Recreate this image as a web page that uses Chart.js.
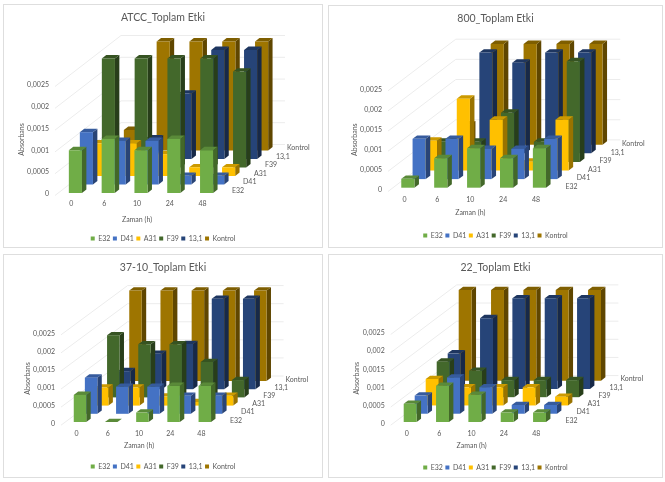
<!DOCTYPE html>
<html>
<head>
<meta charset="utf-8">
<title>Toplam Etki</title>
<script src="https://cdn.jsdelivr.net/npm/chart.js@4"></script>
<style>
  html, body { margin: 0; padding: 0; background: #fff; }
  canvas { position: absolute; outline: 1px solid #dedede; outline-offset: -1px; }
</style>
</head>
<body>
<canvas id="c1"></canvas>
<canvas id="c2"></canvas>
<canvas id="c3"></canvas>
<canvas id="c4"></canvas>
<script>
// Data
const categories = ['0', '6', '10', '24', '48'];
const seriesNames = ['E32', 'D41', 'A31', 'F39', '13,1', 'Kontrol'];
const yTicks = [0, 0.0005, 0.001, 0.0015, 0.002, 0.0025];
const tickLabels = ['0', '0,0005', '0,001', '0,0015', '0,002', '0,0025'];

// one row per series, same order as seriesNames
const atccValues = [
    [0.00098, 0.00124, 0.00098, 0.00124, 0.00098],
    [0.0012, 0.001, 0.001, 0.0002, 0.0002],
    [0.00075, 0.00075, 0.0005, 0.0002, 0.0002],
    [0.0025, 0.0025, 0.0025, 0.0025, 0.0022],
    [0.0002, 0.00047, 0.0015, 0.0025, 0.0025],
    [0.00047, 0.0025, 0.0025, 0.0025, 0.0025]
];
const values800 = [
    [0.00022, 0.00073, 0.00098, 0.00073, 0.00098],
    [0.001, 0.001, 0.00075, 0.00075, 0.001],
    [0.00074, 0.00178, 0.00126, 0.00022, 0.00126],
    [0.0005, 0.0005, 0.00122, 0.0005, 0.0025],
    [0.0003, 0.0025, 0.00225, 0.0025, 0.0025],
    [0.0005, 0.0025, 0.0025, 0.0025, 0.0025]
];
const values3710 = [
    [0.00075, 0, 0.00026, 0.001, 0.001],
    [0.001, 0.00075, 0.00075, 0.0005, 0.0005],
    [0.0005, 0.0005, 0.00025, 0.0001, 0.00027],
    [0.00172, 0.00147, 0.00147, 0.00098, 0.00048],
    [0.0005, 0.00098, 0.00125, 0.0025, 0.0025],
    [0.0025, 0.0025, 0.0025, 0.0025, 0.0025]
];
const values22 = [
    [0.0005, 0.001, 0.00075, 0.00026, 0.00026],
    [0.0005, 0.001, 0.00073, 0.00024, 0.00024],
    [0.00073, 0.0005, 0.0005, 0.0005, 0.00024],
    [0.00098, 0.00073, 0.00047, 0.00047, 0.00047],
    [0.00098, 0.00195, 0.0025, 0.0025, 0.0025],
    [0.0025, 0.0025, 0.0025, 0.0025, 0.0025]
];

// Colours of the faces
const frontColors = ['#70AD47', '#4472C4', '#FFC000', '#43682B', '#264478', '#9E7500'];
const sideColors = ['#436829', '#294476', '#997300', '#283E1A', '#172948', '#5F4600'];
const topColors = ['#5A8A39', '#365B9D', '#CC9A00', '#365322', '#1E3660', '#7E5E00'];
const textColor = '#595959';
const gridColor = '#ececec';
const fontName = 'Lato, "Open Sans", sans-serif';
const labelSize = 7;

// Bars have 40% of the depth slot, like the Excel chart
const barDepth = 0.4;

// Position of each chart, x0/x1 is the front plane, y0/y1 the labels of 0 and 0,0025
const panels = [
    { id: 'c1', title: 'ATCC_Toplam Etki', values: atccValues, left: 3, top: 4, w: 320, h: 244, legendPad: -4, zamanGap: 26,
      x0: 55, x1: 219, y0: 194, y1: 85, dx: 11, dy: 8.5, barX: 4, barY: 1 },
    { id: 'c2', title: '800_Toplam Etki', values: values800, left: 328, top: 5, w: 335, h: 243, legendPad: -1, zamanGap: 23,
      x0: 388, x1: 552.5, y0: 190, y1: 89.3, dx: 11.3, dy: 8.6, barX: 3.4, barY: 2.3 },
    { id: 'c3', title: '37-10_Toplam Etki', values: values3710, left: 3, top: 254, w: 320, h: 224, legendPad: -2, zamanGap: 22,
      x0: 61, x1: 217, y0: 423.7, y1: 333.3, dx: 11.1, dy: 8.2, barX: 3.4, barY: 1.7 },
    { id: 'c4', title: '22_Toplam Etki', values: values22, left: 328, top: 254, w: 335, h: 224, legendPad: -3, zamanGap: 22,
      x0: 390.7, x1: 552.4, y0: 423.7, y1: 333, dx: 11, dy: 8.27, barX: 3.3, barY: 1.7 }
];

function face(ctx, color, pts) {
    ctx.fillStyle = color;
    ctx.beginPath();
    ctx.moveTo(pts[0][0], pts[0][1]);
    for (let i = 1; i < pts.length; i++) ctx.lineTo(pts[i][0], pts[i][1]);
    ctx.closePath();
    ctx.fill();
}

// Draws the walls, the boxes and the depth axis from the chart's own scales
const box3d = {
    id: 'box3d',
    beforeDatasetsDraw(chart, args, opts) {
        const ctx = chart.ctx;
        const y = chart.scales.y;
        const a = chart.chartArea;
        const wallX = a.left + opts.dx * 6;
        const wallEnd = a.right + opts.dx * 6;
        ctx.save();
        ctx.strokeStyle = gridColor;
        ctx.lineWidth = 1;
        yTicks.forEach(t => {
            const py = y.getPixelForValue(t) + 1.5;
            ctx.beginPath();
            ctx.moveTo(a.left, py);
            ctx.lineTo(wallX, py - opts.dy * 6);
            ctx.lineTo(wallEnd, py - opts.dy * 6);
            ctx.stroke();
        });
        ctx.restore();
    },
    beforeDatasetDraw(chart, args, opts) {
        const ctx = chart.ctx;
        const s = args.index;
        const sx = opts.barX + s * opts.dx;
        const sy = -opts.barY - s * opts.dy;
        const ox = barDepth * opts.dx;
        const oy = barDepth * opts.dy;
        ctx.save();
        args.meta.data.forEach(el => {
            const p = el.getProps(['x', 'y', 'base', 'width'], true);
            const l = p.x - p.width / 2 + sx;
            const r = p.x + p.width / 2 + sx;
            const t = p.y + sy;
            const b = p.base + sy;
            face(ctx, sideColors[s], [[r, t], [r + ox, t - oy], [r + ox, b - oy], [r, b]]);
            face(ctx, topColors[s], [[l, t], [l + ox, t - oy], [r + ox, t - oy], [r, t]]);
            face(ctx, frontColors[s], [[l, t], [r, t], [r, b], [l, b]]);
        });
        ctx.restore();
        return false;
    },
    afterDatasetsDraw(chart, args, opts) {
        const ctx = chart.ctx;
        const a = chart.chartArea;
        ctx.save();
        ctx.fillStyle = textColor;
        ctx.font = labelSize + 'px ' + fontName;
        ctx.textAlign = 'left';
        ctx.textBaseline = 'middle';
        seriesNames.forEach((name, s) => {
            ctx.fillText(name, a.right + 13 + s * opts.dx, a.bottom - 3.3 - s * opts.dy);
        });
        ctx.restore();
    }
};

function createPanel(p) {
    const canvas = document.getElementById(p.id);
    canvas.width = p.w;
    canvas.height = p.h;
    canvas.style.left = p.left + 'px';
    canvas.style.top = p.top + 'px';

    const titleSize = 10.5;
    const titleCenter = 14;
    const titleTop = titleCenter - titleSize * 0.6;
    const titleBottom = (p.y1 - p.top) - titleTop - titleSize * 1.2;
    let xHeight = 30;

    const chart = new Chart(canvas, {
        type: 'bar',
        data: {
            labels: categories,
            datasets: seriesNames.map((name, s) => ({
                label: name,
                data: p.values[s],
                backgroundColor: frontColors[s],
                borderWidth: 0,
                grouped: false,
                barPercentage: 0.4,
                categoryPercentage: 1
            }))
        },
        plugins: [box3d],
        options: {
            responsive: false,
            animation: false,
            layout: { padding: { bottom: p.legendPad } },
            plugins: {
                box3d: { dx: p.dx, dy: p.dy, barX: p.barX, barY: p.barY },
                tooltip: { enabled: false },
                title: {
                    display: true,
                    text: p.title,
                    color: textColor,
                    font: { family: fontName, size: titleSize, weight: 'normal' },
                    padding: { top: titleTop, bottom: titleBottom }
                },
                legend: {
                    position: 'bottom',
                    labels: {
                        color: textColor,
                        boxWidth: 4,
                        boxHeight: 4,
                        padding: 2.5,
                        font: { family: fontName, size: labelSize }
                    }
                }
            },
            scales: {
                x: {
                    afterFit: s => { s.height = xHeight; },
                    grid: { display: false, drawTicks: false },
                    border: { display: false },
                    ticks: { color: textColor, padding: 6, maxRotation: 0, font: { family: fontName, size: labelSize } },
                    title: {
                        display: true,
                        text: 'Zaman (h)',
                        color: textColor,
                        padding: { top: 3, bottom: 0 },
                        font: { family: fontName, size: labelSize }
                    }
                },
                y: {
                    min: 0,
                    max: 0.0025,
                    afterFit: s => { s.width = p.x0 - p.left; },
                    grid: { display: false, drawTicks: false },
                    border: { display: false },
                    ticks: {
                        stepSize: 0.0005,
                        color: textColor,
                        padding: 6,
                        font: { family: fontName, size: labelSize },
                        callback: (v, i) => tickLabels[i]
                    },
                    title: {
                        display: true,
                        text: 'Absorbans',
                        color: textColor,
                        padding: { top: p.x0 - p.left - 33.5 - 4.2, bottom: 0 },
                        font: { family: fontName, size: labelSize }
                    }
                },
                // empty axis, keeps room for the depth of the chart on the right
                depth: {
                    type: 'linear',
                    position: 'right',
                    afterFit: s => { s.width = p.left + p.w - p.x1; },
                    grid: { display: false, drawTicks: false },
                    border: { display: false },
                    ticks: { display: false }
                }
            }
        }
    });

    // fix the floor at the wanted height now the legend size is known
    xHeight += chart.chartArea.bottom - (p.y0 - p.top);
    chart.options.scales.x.title.padding = { top: 3, bottom: Math.max(0, xHeight - p.zamanGap - labelSize * 0.6) };
    chart.update();
    return chart;
}

panels.forEach(createPanel);
</script>
</body>
</html>
